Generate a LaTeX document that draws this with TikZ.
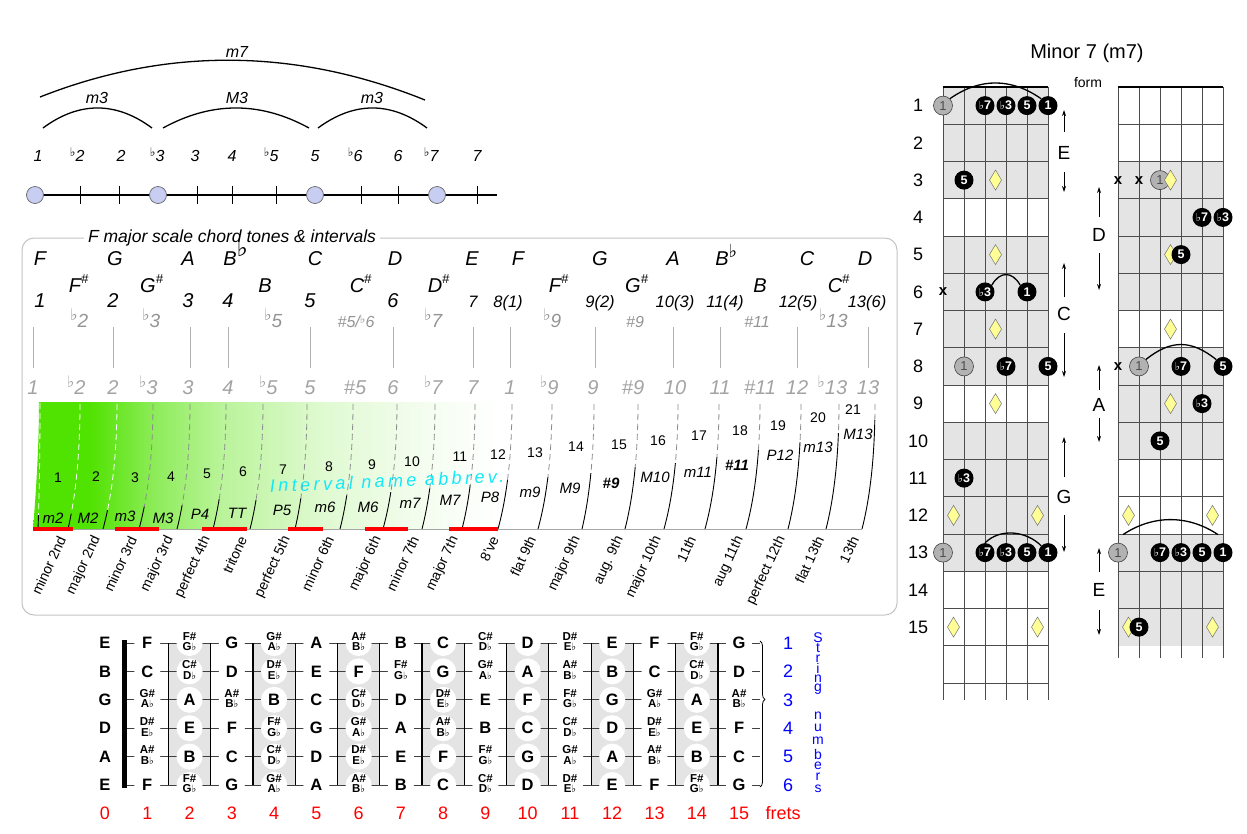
\documentclass[tikz,border=0pt]{standalone}
\usepackage{fontspec}
\setmainfont{Liberation Sans}
\newfontfamily\djv{DejaVu Sans}
\usetikzlibrary{calc,arrows.meta,decorations.pathreplacing}
\definecolor{gg}{RGB}{80,226,0}
\colorlet{gA}{gg!65!white}
\colorlet{gB}{gg!40!white}
\colorlet{gC}{gg!18!white}
\colorlet{gD}{gg!7!white}
\definecolor{lav}{RGB}{200,205,242}
\definecolor{boxgray}{RGB}{195,195,195}
\definecolor{shd}{RGB}{228,228,228}
\definecolor{diafill}{RGB}{255,255,150}
\definecolor{cyanT}{RGB}{20,232,248}
\pgfdeclarehorizontalshading{gfade}{100bp}{color(0bp)=(gg); color(31bp)=(gg); color(38bp)=(gA); color(45bp)=(gB); color(56bp)=(gC); color(66bp)=(gD); color(75bp)=(white); color(100bp)=(white)}
\newcommand\fsz[1]{\fontsize{#1}{#1}\selectfont}
\newcommand\tfl{\llap{\raisebox{5pt}{\djv\fsz{12}♭}}}
\newcommand\dfl{\llap{\raisebox{7pt}{\djv\itshape\fsz{16}♭}}}
\newcommand\cfl{{\djv\fsz{11}♭}}
\newcommand\shp[1]{#1\rlap{\raisebox{9pt}{\fsz{13}\#}}}
\newcommand\bflA{B\rlap{\raisebox{9pt}{\djv\fsz{24}♭}}}
\newcommand\bflB{B\rlap{\raisebox{8pt}{\djv\fsz{18}♭}}}
\newcommand\two[2]{{\fsz{11.5}\renewcommand\arraystretch{0.78}\begin{tabular}{@{}c@{}}#1\#\\#2{\djv\fsz{10}♭}\end{tabular}}}
\tikzset{diam/.pic={\draw[draw=black!55, fill=diafill, line width=0.5] (0,-10) -- (6,0) -- (0,10) -- (-6,0) -- cycle;}}
\begin{document}
\begin{tikzpicture}[x=1pt,y=-1pt,
 deg/.style={font=\itshape\fsz{16}, inner sep=0, anchor=base},
 rowA/.style={font=\itshape\fsz{20}, inner sep=0, anchor=base},
 rowCs/.style={font=\itshape\fsz{16.5}, inner sep=0, anchor=base},
 rowD/.style={font=\itshape\fsz{19}, text=black!42, inner sep=0, anchor=base},
 rowDs/.style={font=\itshape\fsz{16}, text=black!42, inner sep=0, anchor=base},
 rowE/.style={font=\itshape\fsz{20}, text=black!36, inner sep=0, anchor=base},
 num/.style={font=\fsz{14}, inner sep=0},
 ab/.style={font=\itshape\fsz{15}, inner sep=0},
 rot/.style={rotate=65, anchor=east, font=\fsz{14}, inner sep=0},
 fnote/.style={circle, fill=white, inner sep=0, minimum size=26, font=\bfseries\fsz{16.5}},
 bdot/.style={circle, fill=black, inner sep=0, minimum size=19, text=white, font=\bfseries\fsz{12.5}},
 gdot/.style={circle, fill=black!30, draw=black!75, line width=0.6, inner sep=0, minimum size=19, text=black!70, font=\fsz{13}},
 xm/.style={font=\bfseries\fsz{15}, inner sep=0},
 arcl/.style={line width=1.3},
 arr/.style={-{Stealth[length=6pt,width=4pt]}, line width=0.8},
 gline/.style={black!70, line width=0.7},
 lett/.style={font=\fsz{19}, inner sep=0}
]
\useasboundingbox (0,0) rectangle (1247,833);

% ================= top-left interval line
\draw[line width=1.1] (35,195) -- (497,195);
\foreach \x [count=\i] in {80,119,197,232,276,361,398,477} \draw[line width=0.9] (\x,186) -- (\x,204);
\foreach \x/\nm in {35/c1,158/c3,315/c5,437/c7}
  \node[circle, fill=lav, draw=black!60, line width=0.7, minimum size=17, inner sep=0] (\nm) at (\x,195) {};
\foreach \x/\t [count=\i] in {38/1, 80/\tfl 2, 121/2, 160/\tfl 3, 195/3, 232/4, 274/\tfl 5, 315/5, 358/\tfl 6, 398/6, 434/\tfl 7, 477/7}
  \node[deg] (deg\i) at (\x,161) {\t};
\draw[arcl] (43,128) .. controls (79,101.3) and (116,101.3) .. (152,128);
\draw[arcl] (163,128) .. controls (211.7,101.3) and (260.3,101.3) .. (309,128);
\draw[arcl] (318,128) .. controls (354.3,101.3) and (390.7,101.3) .. (427,128);
\draw[arcl] (40,97) .. controls (168,46.5) and (297,48.5) .. (425,100);
\node[deg] (lm3a) at (97,103) {m3};
\node[deg] (lM3) at (237,103) {M3};
\node[deg] (lm3b) at (372,103) {m3};
\node[deg] (lm7) at (237,57) {m7};

% ================= box
\draw[boxgray, line width=1, rounded corners=12] (22,238) rectangle (897,615);
\node[fill=white, font=\itshape\fsz{17.5}, inner xsep=4, inner ysep=1] (title) at (232,238) {F major scale chord tones \& intervals};

\foreach \x/\t [count=\i] in {40/F, 115/G, 188/A, 230/\bflA, 315/C, 395/D, 472/E, 518/F, 600/G, 673/A, 722/\bflB, 807/C, 865/D}
  \node[rowA] (ra\i) at (\x,265) {\t};
\foreach \x/\t [count=\i] in {75/\shp{F}, 148/\shp{G}, 265/B, 357/\shp{C}, 435/\shp{D}, 555/\shp{F}, 633/\shp{G}, 760/B, 835/\shp{C}}
  \node[rowA] (rb\i) at (\x,292) {\t};
\foreach \x/\t [count=\i] in {40/1, 113/2, 188/3, 228/4, 310/5, 393/6}
  \node[rowA] (rc\i) at (\x,307) {\t};
\foreach \x/\t [count=\i] in {473/7, 508/8(1), 600/9(2), 675/10(3), 725/11(4), 798/12(5), 867/13(6)}
  \node[rowCs] (rcs\i) at (\x,307) {\t};
\foreach \x/\t [count=\i] in {83/\dfl 2, 155/\dfl 3, 277/\dfl 5, 437/\dfl 7, 556/\dfl 9, 837/\dfl 13}
  \node[rowD] (rd\i) at (\x,327) {\t};
\node[rowDs] (rdA) at (356,327) {\#5/{\djv\itshape\fsz{12}\raisebox{4pt}{♭}}6};
\node[rowDs] (rdB) at (635,327) {\#9};
\node[rowDs] (rdC) at (757,327) {\#11};
\foreach \x in {33,113,190,228,310,393,473,510,595,673,720,797,868}
  \draw[black!30, line width=0.9] (\x,327) -- (\x,368);
\foreach \x/\t [count=\i] in {33/1, 80/\dfl 2, 113/2, 152/\dfl 3, 188/3, 228/4, 272/\dfl 5, 310/5, 355/\#5, 393/6, 437/\dfl 7, 473/7, 510/1, 553/\dfl 9, 593/9, 633/\#9, 675/10, 720/11, 760/\#11, 797/12, 836/\dfl 13, 868/13}
  \node[rowE] (re\i) at (\x,394) {\t};

% gradient
\shade[shading=gfade] (33,529) .. controls (37,480) and (39,440) .. (39,402) -- (500,402) -- (500,529) -- cycle;

% dividers
\foreach \xb/\xt/\ys [count=\i from 0] in {38/40/514, 68/80/513, 103/117/510, 139/153/506, 177/190/505, 213/226/499, 250/263/500, 295/307/498, 340/353/495, 383/397/492, 422/435/488, 462/475/485, 498/512/480, 538/552/477, 582/594/473, 625/638/467, 664/678/463, 705/719/457, 746/760/450, 788/801/442, 826/839/433, 862/875/420} {
  \ifnum\i<3 \def\dcol{white}\else\def\dcol{black!45}\fi
  \begin{scope}
    \clip (\xb-20,\ys) rectangle (\xt+20,532);
    \draw[line width=0.9] (\xb,529) .. controls ({\xb+0.667*(\xt-\xb)},495) and (\xt,452.7) .. (\xt,402);
  \end{scope}
  \begin{scope}
    \clip (\xb-20,398) rectangle (\xt+20,\ys);
    \draw[\dcol, line width=0.8, dash pattern=on 6pt off 4pt] (\xb,529) .. controls ({\xb+0.667*(\xt-\xb)},495) and (\xt,452.7) .. (\xt,402);
  \end{scope}
}
\draw[black!35, line width=0.8] (33,529) -- (862,529);
\foreach \a/\b in {33/73,115/159,202/247,288/323,365/408,449/498}
  \draw[red, line width=3.5] (\a,529) -- (\b,529);

\foreach \x/\y [count=\i] in {58/478, 96/477, 135/478, 171/477, 207/474, 243/472, 283/470, 329/467, 372/465, 412/462, 460/457, 498/455, 535/453, 576/447, 619/445, 658/441, 699/436, 740/431, 778/426, 818/418, 853/410}
  \node[num] (n\i) at (\x,\y) {\i};
\foreach \x/\y/\t [count=\i] in {53/518/m2, 88/518/M2, 125/516/m3, 163/518/M3, 200/514/P4, 237/513/TT, 282/510/P5, 325/507/m6, 368/507/M6, 410/503/m7, 450/500/M7, 490/497/P8, 530/492/m9, 570/488/M9, 655/477/M10, 698/472/m11, 780/455/P12, 818/447/m13, 858/434/M13}
  \node[ab] (ab\i) at (\x,\y) {\t};
\node[ab, font=\bfseries\itshape\fsz{15}] (abS9) at (611,483) {\#9};
\node[ab, font=\bfseries\itshape\fsz{15}] (abS11) at (737,465) {\#11};
\node[text=cyanT, font=\itshape\fsz{18}\addfontfeature{LetterSpace=19}, rotate=2.4, inner sep=0] (ina) at (387,481) {Interval name abbrev.};

\foreach \x/\t [count=\i] in {62/minor 2nd, 97/major 2nd, 133/minor 3rd, 170/major 3rd, 207/perfect 4th, 243/tritone, 287/perfect 5th, 330/minor 6th, 378/major 6th, 415/minor 7th, 455/major 7th, 495/8've, 532/flat 9th, 577/major 9th, 620/aug. 9th, 658/major 10th, 692/11th, 740/aug 11th, 782/perfect 12th, 820/flat 13th, 855/13th}
  \node[rot] (rl\i) at (\x,537) {\t};

% ================= fretboard
\foreach \c in {2,4,...,14} \fill[shd] ({105+42.27*(\c-0.5)},643) rectangle ({105+42.27*(\c+0.5)},785);
\foreach \s in {0,...,5} \draw[black!75, line width=0.9] (124,{643+28.4*\s}) -- (760,{643+28.4*\s});
\foreach \c in {1,...,14} \draw[line width=1.2] ({105+42.27*(\c+0.5)},643) -- ({105+42.27*(\c+0.5)},785);
\draw[line width=5] (124,640) -- (124,788);
\foreach \n [count=\c from 0] in {E,F,\two{F}{G},G,\two{G}{A},A,\two{A}{B},B,C,\two{C}{D},D,\two{D}{E},E,F,\two{F}{G},G}
  \node[fnote] (sa\c) at ({105+42.27*\c},643) {\n};
\foreach \n [count=\c from 0] in {B,C,\two{C}{D},D,\two{D}{E},E,F,\two{F}{G},G,\two{G}{A},A,\two{A}{B},B,C,\two{C}{D},D}
  \node[fnote] (sb\c) at ({105+42.27*\c},671.4) {\n};
\foreach \n [count=\c from 0] in {G,\two{G}{A},A,\two{A}{B},B,C,\two{C}{D},D,\two{D}{E},E,F,\two{F}{G},G,\two{G}{A},A,\two{A}{B}}
  \node[fnote] (sc\c) at ({105+42.27*\c},699.8) {\n};
\foreach \n [count=\c from 0] in {D,\two{D}{E},E,F,\two{F}{G},G,\two{G}{A},A,\two{A}{B},B,C,\two{C}{D},D,\two{D}{E},E,F}
  \node[fnote] (sd\c) at ({105+42.27*\c},728.2) {\n};
\foreach \n [count=\c from 0] in {A,\two{A}{B},B,C,\two{C}{D},D,\two{D}{E},E,F,\two{F}{G},G,\two{G}{A},A,\two{A}{B},B,C}
  \node[fnote] (se\c) at ({105+42.27*\c},756.6) {\n};
\foreach \n [count=\c from 0] in {E,F,\two{F}{G},G,\two{G}{A},A,\two{A}{B},B,C,\two{C}{D},D,\two{D}{E},E,F,\two{F}{G},G}
  \node[fnote] (sf\c) at ({105+42.27*\c},785) {\n};
\draw[decorate, decoration={brace, amplitude=5pt, aspect=0.4}, line width=0.8] (760,641) -- (760,787);
\foreach \c in {0,...,15} \node[text=red, font=\fsz{18}, inner sep=0] (fr\c) at ({105+42.27*\c},813) {\c};
\node[text=red, font=\fsz{18}, inner sep=0] (frets) at (783,813) {frets};
\foreach \s in {1,...,6} \node[text=blue, font=\fsz{18}, inner sep=0] (sn\s) at (788,{643+28.4*(\s-1)}) {\s};
\foreach \l/\y [count=\i] in {S/638,t/648,r/659,i/668,n/679,g/689,n/716,u/728,m/741,b/754,e/766,r/777,s/789}
  \node[text=blue, font=\fsz{14}, inner sep=0] (sl\i) at (818,\y) {\l};

% ================= chord diagrams
\node[font=\fsz{20}, inner sep=0] (ctitle) at (1087,53) {Minor 7 (m7)};
\node[font=\fsz{14}, inner sep=0] (form) at (1088,82) {form};
\foreach \r in {1,2,3,5,6,7,8,10,11,12,13} \fill[shd] (943,{87+37.25*(\r-1)}) rectangle (1048,{87+37.25*\r});
\foreach \r in {3,4,5,6,8,9,10,13,14,15} \fill[shd] (1118,{87+37.25*(\r-1)}) rectangle (1223,{87+37.25*\r});
\foreach \k in {1,...,16} \draw[gline] (943,{87+37.25*\k}) -- (1048,{87+37.25*\k});
\foreach \k in {1,...,14} \draw[gline] (1118,{87+37.25*\k}) -- (1223,{87+37.25*\k});
\foreach \x in {943,964,985,1006,1027,1048} \draw[gline] (\x,87) -- (\x,700);
\foreach \x in {1118,1139,1160,1181,1202,1223} \draw[gline] (\x,87) -- (\x,658);
\draw[line width=2] (943,87) -- (1048,87);
\draw[line width=2] (1118,87) -- (1223,87);
\foreach \r in {1,...,15} \node[font=\fsz{18}, inner sep=0] (fn\r) at (918,{87+37.25*(\r-0.5)}) {\r};

% left diagram
\pic at (995.5,180.1) {diam};
\pic at (995.5,254.6) {diam};
\pic at (995.5,329.1) {diam};
\pic at (995.5,403.6) {diam};
\pic at (953.5,515.4) {diam};
\pic at (1037.5,515.4) {diam};
\pic at (953.5,627.1) {diam};
\pic at (1037.5,627.1) {diam};
\node[gdot] (L1a) at (943,105.6) {1};
\node[bdot] (L1b) at (985,105.6) {\cfl7};
\node[bdot] (L1c) at (1006,105.6) {\cfl3};
\node[bdot] (L1d) at (1027,105.6) {5};
\node[bdot] (L1e) at (1048,105.6) {1};
\draw[arcl] (L1a.north east) .. controls +(30,-21) and +(-30,-21) .. (L1e.north west);
\node[bdot] (L3a) at (964,180.1) {5};
\node[xm] (L6x) at (943,291.9) {x};
\node[bdot] (L6a) at (985,291.9) {\cfl3};
\node[bdot] (L6b) at (1027,291.9) {1};
\draw[arcl] (L6a.north east) .. controls +(8,-14) and +(-8,-14) .. (L6b.north west);
\node[gdot] (L8a) at (964,366.4) {1};
\node[bdot] (L8b) at (1006,366.4) {\cfl7};
\node[bdot] (L8c) at (1048,366.4) {5};
\node[bdot] (L11a) at (964,478.1) {\cfl3};
\node[gdot] (L13a) at (943,552.6) {1};
\node[bdot] (L13b) at (985,552.6) {\cfl7};
\node[bdot] (L13c) at (1006,552.6) {\cfl3};
\node[bdot] (L13d) at (1027,552.6) {5};
\node[bdot] (L13e) at (1048,552.6) {1};
\draw[arcl] (L13b.north) .. controls +(15,-15) and +(-15,-15) .. (L13e.north west);

% right diagram
\node[xm] (R3x) at (1118,180.1) {x};
\node[xm] (R3y) at (1139,180.1) {x};
\node[gdot] (R3a) at (1160,180.1) {1};
\pic at (1170.5,180.1) {diam};
\node[bdot] (R4a) at (1202,217.4) {\cfl7};
\node[bdot] (R4b) at (1223,217.4) {\cfl3};
\pic at (1170.5,254.6) {diam};
\node[bdot] (R5a) at (1181,254.6) {5};
\pic at (1170.5,329.1) {diam};
\node[xm] (R8x) at (1118,366.4) {x};
\node[gdot] (R8a) at (1139,366.4) {1};
\node[bdot] (R8b) at (1181,366.4) {\cfl7};
\node[bdot] (R8c) at (1223,366.4) {5};
\draw[arcl] (R8a.north east) .. controls +(25,-20) and +(-25,-20) .. (R8c.north west);
\pic at (1170.5,403.6) {diam};
\node[bdot] (R9a) at (1202,403.6) {\cfl3};
\node[bdot] (R10a) at (1160,440.9) {5};
\pic at (1128.5,515.4) {diam};
\pic at (1212.5,515.4) {diam};
\node[gdot] (R13a) at (1118,552.6) {1};
\node[bdot] (R13b) at (1160,552.6) {\cfl7};
\node[bdot] (R13c) at (1181,552.6) {\cfl3};
\node[bdot] (R13d) at (1202,552.6) {5};
\node[bdot] (R13e) at (1223,552.6) {1};
\draw[arcl] ($(R13a)+(5,-18)$) .. controls +(30,-20) and +(-30,-20) .. ($(R13e)+(-5,-18)$);
\pic at (1128.5,627.1) {diam};
\node[bdot] (R15a) at (1139,627.1) {5};
\pic at (1212.5,627.1) {diam};

% letters and arrows
\node[lett] (lE1) at (1064,153) {E};
\draw[arr] ($(lE1)+(0,-21)$) -- ++(0,-22);
\draw[arr] ($(lE1)+(0,19)$) -- ++(0,20);
\node[lett] (lC) at (1064,314) {C};
\draw[arr] ($(lC)+(0,-17)$) -- ++(0,-34);
\draw[arr] ($(lC)+(0,19)$) -- ++(0,44);
\node[lett] (lG) at (1064,497) {G};
\draw[arr] ($(lG)+(0,-20)$) -- ++(0,-40);
\draw[arr] ($(lG)+(0,18)$) -- ++(0,37);
\node[lett] (lD) at (1099,235) {D};
\draw[arr] ($(lD)+(0,-18)$) -- ++(0,-30);
\draw[arr] ($(lD)+(0,18)$) -- ++(0,37);
\node[lett] (lA) at (1099,405) {A};
\draw[arr] ($(lA)+(0,-15)$) -- ++(0,-25);
\draw[arr] ($(lA)+(0,13)$) -- ++(0,24);
\node[lett] (lE2) at (1099,590) {E};
\draw[arr] ($(lE2)+(0,-18)$) -- ++(0,-24);
\draw[arr] ($(lE2)+(0,20)$) -- ++(0,25);
\end{tikzpicture}
\end{document}
